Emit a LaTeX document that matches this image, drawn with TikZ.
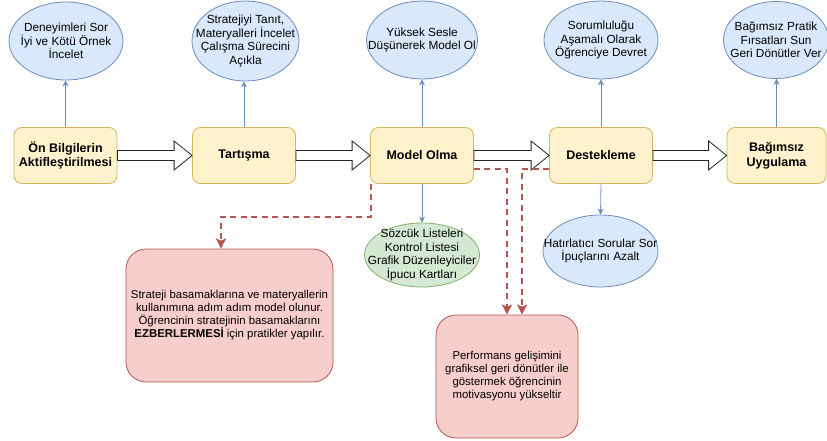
\documentclass[tikz,border=0pt]{standalone}
\usepackage{fontspec}
\setmainfont{Liberation Sans}
\usetikzlibrary{shapes.geometric,arrows.meta,calc}
\definecolor{ylfill}{HTML}{FFF2CC}
\definecolor{yldraw}{HTML}{D6B656}
\definecolor{blfill}{HTML}{DAE8FC}
\definecolor{bldraw}{HTML}{6C8EBF}
\definecolor{grfill}{HTML}{D5E8D4}
\definecolor{grdraw}{HTML}{82B366}
\definecolor{pkfill}{HTML}{F8CECC}
\definecolor{pkdraw}{HTML}{B85450}
\newcommand{\hollowarrow}[2]{%
  \draw[hollow] ($(#1.east)+(0,-5)$) -- ($(#2.west)+(-18,-5)$) -- ($(#2.west)+(-18,-14.5)$)
    -- (#2.west) -- ($(#2.west)+(-18,14.5)$) -- ($(#2.west)+(-18,5)$) -- ($(#1.east)+(0,5)$) -- cycle;}
\begin{document}
\begin{tikzpicture}[x=1pt,y=-1pt,
 stagebox/.style={rectangle, rounded corners=8pt, fill=ylfill, draw=yldraw, line width=0.8pt,
   minimum width=103pt, minimum height=56pt, align=center,
   font=\fontsize{12.5}{14.5}\selectfont\bfseries, inner sep=0pt},
 ellbase/.style={ellipse, inner sep=0pt, line width=0.8pt},
 blueell/.style={ellbase, fill=blfill, draw=bldraw},
 greenell/.style={ellbase, fill=grfill, draw=grdraw},
 etext/.style={align=center, font=\fontsize{11.8}{13.5}\selectfont, inner sep=0pt},
 notebox/.style={rectangle, rounded corners=20pt, fill=pkfill, draw=pkdraw, line width=0.8pt,
   align=center, font=\fontsize{11.4}{13}\selectfont, inner sep=0pt},
 bluearrow/.style={draw=bldraw, line width=0.8pt, -{Stealth[length=6pt,width=6pt]}},
 dasharrow/.style={draw=pkdraw, line width=1.8pt, dash pattern=on 6pt off 4.5pt,
   -{Stealth[length=10pt,width=10pt,fill=pkdraw,inset=2pt]}},
 hollow/.style={draw=black!85, fill=white, line width=0.8pt, line join=miter}
]
\useasboundingbox[fill=white] (0,0) rectangle (827,441);

% stage boxes
\node[stagebox] (b1) at (65.5,155.5) {Ön Bilgilerin\\Aktifleştirilmesi};
\node[stagebox] (b2) at (244,155.5) {Tartışma};
\node[stagebox] (b3) at (422,155.5) {Model Olma};
\node[stagebox] (b4) at (601,155.5) {Destekleme};
\node[stagebox, minimum width=99pt] (b5) at (776.5,155.5) {Bağımsız\\Uygulama};

% top ellipses
\node[blueell, minimum width=114pt, minimum height=78pt,
  label={[etext]center:{Deneyimleri Sor\\İyi ve Kötü Örnek\\İncelet}}] (e1) at (66,41) {};
\node[blueell, minimum width=107pt, minimum height=80pt,
  label={[etext]center:{Stratejiyi Tanıt,\\Materyalleri İncelet\\Çalışma Sürecini\\Açıkla}}] (e2) at (245.5,41) {};
\node[blueell, minimum width=111pt, minimum height=78pt,
  label={[etext]center:{Yüksek Sesle\\Düşünerek Model Ol}}] (e3) at (422,40) {};
\node[blueell, minimum width=114pt, minimum height=78pt,
  label={[etext]center:{Sorumluluğu\\Aşamalı Olarak\\Öğrenciye Devret}}] (e4) at (601,40) {};
\node[blueell, minimum width=105pt, minimum height=77pt,
  label={[etext]center:{Bağımsız Pratik\\Fırsatları Sun\\Geri Dönütler Ver}}] (e5) at (776,40) {};

% lower ellipses
\node[greenell, minimum width=115pt, minimum height=64pt,
  label={[etext]center:{Sözcük Listeleri\\Kontrol Listesi\\Grafik Düzenleyiciler\\İpucu Kartları}}] (g) at (422,255) {};
\node[blueell, minimum width=115pt, minimum height=72pt,
  label={[etext]center:{Hatırlatıcı Sorular Sor\\İpuçlarını Azalt}}] (h) at (600.5,251) {};

% note boxes
\node[notebox, minimum width=207pt, minimum height=133pt] (p1) at (229.5,315.5)
  {Strateji basamaklarına ve materyallerin\\kullanımına adım adım model olunur.\\Öğrencinin stratejinin basamaklarını\\\textbf{EZBERLERMESİ} için pratikler yapılır.};
\node[notebox, minimum width=142pt, minimum height=123pt] (p2) at (507,376.5)
  {Performans gelişimini\\grafiksel geri dönütler ile\\göstermek öğrencinin\\motivasyonu yükseltir};

% blue connectors
\draw[bluearrow] (b1.north) -- (b1.north |- e1.south);
\draw[bluearrow] (b2.north) -- (b2.north |- e2.south);
\draw[bluearrow] (b3.north) -- (e3.south);
\draw[bluearrow] (b4.north) -- (e4.south);
\draw[bluearrow] (b5.north) -- (b5.north |- e5.south);
\draw[bluearrow] (b3.south) -- (g.north);
\draw[bluearrow] (b4.south) -- (h.north);

% hollow block arrows
\hollowarrow{b1}{b2}
\hollowarrow{b2}{b3}
\hollowarrow{b3}{b4}
\hollowarrow{b4}{b5}

% dashed connectors
\draw[dasharrow] ($(b3.south west)+(1,0)$) -- ++(0,33) -| ($(p1.north)+(-8.5,0)$);
\draw[dasharrow] ($(b3.east)+(0,13.5)$) -| (p2.north);
\draw[dasharrow] ($(b4.west)+(0,13.5)$) -| ($(p2.north)+(15,0)$);
\end{tikzpicture}
\end{document}
